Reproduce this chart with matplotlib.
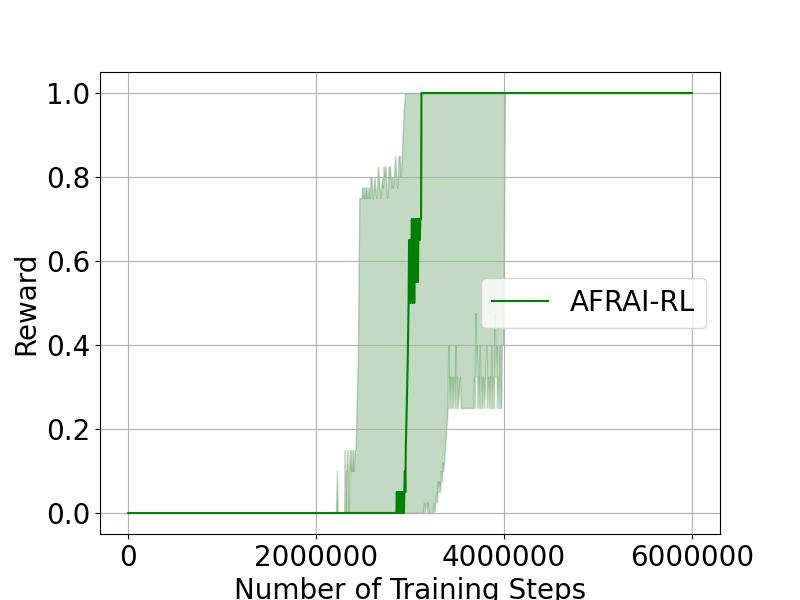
import matplotlib
matplotlib.use("Agg")
import matplotlib.pyplot as plt

# median reward curve
line_steps = [0, 2855000,
              2860000, 2865000, 2870000, 2875000, 2880000, 2885000, 2890000, 2895000,
              2900000, 2905000, 2910000, 2915000, 2920000, 2925000, 2930000, 2935000, 2940000,
              2945000, 2950000, 2955000, 2960000, 2965000, 2975000, 2985000,
              2990000, 2995000, 3000000, 3005000, 3010000, 3015000, 3020000, 3025000,
              3030000, 3035000, 3040000, 3045000, 3050000, 3055000, 3060000, 3065000,
              3070000, 3075000, 3080000, 3085000, 3090000, 3095000, 3100000, 3105000,
              3110000, 3118000, 3122000, 6000000]
line_reward = [0.0, 0.0,
               0.05, 0.0, 0.05, 0.0, 0.05, 0.0, 0.05, 0.0,
               0.05, 0.0, 0.05, 0.0, 0.05, 0.0, 0.05, 0.0, 0.05,
               0.1, 0.05, 0.15, 0.2, 0.25, 0.35, 0.5,
               0.65, 0.5, 0.6, 0.5, 0.65, 0.55, 0.7, 0.5,
               0.65, 0.55, 0.7, 0.5, 0.65, 0.6, 0.7, 0.55,
               0.7, 0.65, 0.7, 0.55, 0.7, 0.65, 0.7, 0.65,
               0.7, 0.7, 1.0, 1.0]

# spread band (low / high)
band_steps = [0, 2212000, 2222000, 2230000, 2300000, 2306000, 2312000, 2318000, 2326000,
              2332000, 2338000, 2346000, 2352000, 2360000, 2368000, 2376000, 2384000,
              2392000, 2400000, 2410000, 2420000, 2428000, 2445000, 2460000,
              2485000, 2490000, 2500000, 2505000, 2515000, 2520000, 2526000, 2534000,
              2540000, 2548000, 2556000, 2565000, 2574000, 2579000, 2590000, 2596000,
              2604000, 2614000, 2622000, 2630000, 2640000, 2650000, 2659000, 2668000,
              2676000, 2686000, 2694000, 2702000, 2712000, 2720000, 2730000, 2740000,
              2748000, 2756000, 2766000, 2772000, 2786000, 2794000, 2802000, 2812000,
              2820000, 2830000, 2843000, 2852000, 2862000, 2870000, 2878000, 2890000,
              2900000, 2913000, 2931000, 2949000,
              3140000, 3148000, 3156000, 3166000, 3174000, 3182000, 3190000, 3198000,
              3240000, 3249000, 3258000, 3270000, 3280000, 3288000, 3296000, 3304000,
              3312000, 3320000, 3330000, 3338000, 3346000, 3354000, 3372000, 3386000,
              3400000, 3407000, 3414000, 3420000, 3428000, 3436000, 3444000, 3452000,
              3460000, 3468000, 3480000, 3487000, 3494000, 3500000, 3508000, 3531000,
              3540000, 3672000, 3680000, 3688000, 3696000, 3704000, 3712000, 3720000,
              3725000, 3734000, 3743000, 3750000, 3760000, 3770000, 3780000, 3790000,
              3800000, 3813000, 3820000, 3830000, 3841000, 3850000, 3858000, 3866000,
              3874000, 3884000, 3892000, 3902000, 3910000, 3919000, 3926000, 3936000,
              3944000, 3954000, 3962000, 3971000, 3978000, 3995000, 4003000, 4012000,
              6000000]
band_high = [0.0, 0.0, 0.1, 0.0, 0.0, 0.15, 0.0, 0.1, 0.1,
             0.15, 0.1, 0.0, 0.1, 0.15, 0.1, 0.15, 0.1,
             0.15, 0.1, 0.15, 0.15, 0.22, 0.37, 0.75,
             0.75, 0.775, 0.775, 0.75, 0.775, 0.75, 0.775, 0.775,
             0.75, 0.775, 0.75, 0.775, 0.75, 0.8, 0.8, 0.775,
             0.75, 0.775, 0.8, 0.775, 0.75, 0.775, 0.825, 0.8,
             0.775, 0.75, 0.775, 0.8, 0.775, 0.825, 0.8, 0.825,
             0.775, 0.75, 0.775, 0.825, 0.825, 0.8, 0.775, 0.8,
             0.775, 0.8, 0.85, 0.8, 0.775, 0.8, 0.85, 0.85,
             0.8, 0.85, 0.95, 1.0,
             1.0, 1.0, 1.0, 1.0, 1.0, 1.0, 1.0, 1.0,
             1.0, 1.0, 1.0, 1.0, 1.0, 1.0, 1.0, 1.0,
             1.0, 1.0, 1.0, 1.0, 1.0, 1.0, 1.0, 1.0,
             1.0, 1.0, 1.0, 1.0, 1.0, 1.0, 1.0, 1.0,
             1.0, 1.0, 1.0, 1.0, 1.0, 1.0, 1.0, 1.0,
             1.0, 1.0, 1.0, 1.0, 1.0, 1.0, 1.0, 1.0,
             1.0, 1.0, 1.0, 1.0, 1.0, 1.0, 1.0, 1.0,
             1.0, 1.0, 1.0, 1.0, 1.0, 1.0, 1.0, 1.0,
             1.0, 1.0, 1.0, 1.0, 1.0, 1.0, 1.0, 1.0,
             1.0, 1.0, 1.0, 1.0, 1.0, 1.0, 1.0, 1.0,
             1.0]
band_low = [0.0, 0.0, 0.0, 0.0, 0.0, 0.0, 0.0, 0.0, 0.0,
            0.0, 0.0, 0.0, 0.0, 0.0, 0.0, 0.0, 0.0,
            0.0, 0.0, 0.0, 0.0, 0.0, 0.0, 0.0,
            0.0, 0.0, 0.0, 0.0, 0.0, 0.0, 0.0, 0.0,
            0.0, 0.0, 0.0, 0.0, 0.0, 0.0, 0.0, 0.0,
            0.0, 0.0, 0.0, 0.0, 0.0, 0.0, 0.0, 0.0,
            0.0, 0.0, 0.0, 0.0, 0.0, 0.0, 0.0, 0.0,
            0.0, 0.0, 0.0, 0.0, 0.0, 0.0, 0.0, 0.0,
            0.0, 0.0, 0.0, 0.0, 0.0, 0.0, 0.0, 0.0,
            0.0, 0.0, 0.0, 0.0,
            0.0, 0.025, 0.0, 0.025, 0.025, 0.0, 0.025, 0.0,
            0.0, 0.025, 0.0, 0.025, 0.05, 0.025, 0.075, 0.05,
            0.075, 0.05, 0.1, 0.075, 0.12, 0.1, 0.15, 0.2,
            0.25, 0.4, 0.25, 0.325, 0.25, 0.325, 0.25, 0.325,
            0.25, 0.325, 0.25, 0.4, 0.25, 0.325, 0.25, 0.325,
            0.25, 0.25, 0.325, 0.25, 0.476, 0.325, 0.4, 0.25,
            0.325, 0.25, 0.4, 0.25, 0.325, 0.25, 0.325, 0.25,
            0.325, 0.4, 0.25, 0.325, 0.25, 0.325, 0.25, 0.4,
            0.25, 0.325, 0.25, 0.476, 0.325, 0.4, 0.25, 0.325,
            0.25, 0.4, 0.25, 0.25, 0.4, 0.4, 0.78, 1.0,
            1.0]

fig, ax = plt.subplots(figsize=(8, 6), dpi=100)

ax.fill_between(band_steps, band_low, band_high, color="darkgreen", alpha=0.24)
ax.plot(line_steps, line_reward, color="green", label="AFRAI-RL")

ax.set_xlabel("Number of Training Steps", fontsize=20)
ax.set_ylabel("Reward", fontsize=20)
ax.tick_params(labelsize=20)
ax.ticklabel_format(style="plain", axis="x")
ax.set_xticks([0, 2000000, 4000000, 6000000])
ax.grid(True)
ax.legend(loc="center right", fontsize=20)

fig.savefig("out.png")
